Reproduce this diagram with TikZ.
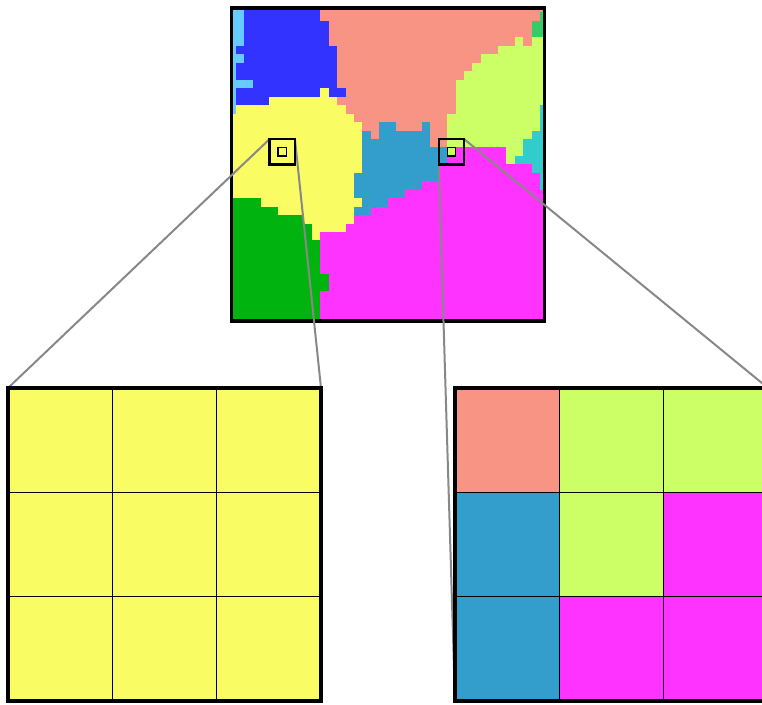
\documentclass[tikz,border=0pt]{standalone}
\definecolor{colA}{HTML}{66CCFF}
\definecolor{colB}{HTML}{3333FF}
\definecolor{colS}{HTML}{F89483}
\definecolor{colL}{HTML}{CCFF66}
\definecolor{colG}{HTML}{33CC66}
\definecolor{colC}{HTML}{33CCCC}
\definecolor{colY}{HTML}{FAFC63}
\definecolor{colT}{HTML}{339DCC}
\definecolor{colM}{HTML}{FF33FF}
\definecolor{colD}{HTML}{00B30E}
\definecolor{zgrey}{HTML}{888888}
\tikzset{
  frame/.style={line width=3.6pt},
  zoomline/.style={draw=zgrey, line width=2pt},
  selbox/.style={line width=2.4pt},
  selpix/.style={line width=1.1pt},
  cellgrid/.style={line width=1.4pt},
  pix/.style={fill=#1, draw=#1, line width=0.3pt}
}
\begin{document}
\begin{tikzpicture}[x=1pt,y=-1pt]
\useasboundingbox (0,0) rectangle (762,704);
\clip (0,0) rectangle (762,704);
% ---------------- top grain map ----------------
\begin{scope}[shift={(231.5,8)}, x=8.459pt, y=-8.459pt]
  \begin{scope}
    \clip (0,0) rectangle (37,37);
    \foreach \r/\runs in {
      0/{A/2,B/11,S/38},
      1/{A/2,B/11,S/37,G/38},
      2/{A/2,B/12,S/36,G/38},
      3/{A/2,B/12,S/36,G/38},
      4/{A/2,B/12,S/34,L/35,S/36,L/38},
      5/{A/1,B/13,S/32,L/38},
      6/{A/2,B/13,S/30,L/38},
      7/{A/1,B/13,S/29,L/38},
      8/{A/1,B/13,S/28,L/38},
      9/{A/3,B/13,S/27,L/38},
      10/{A/1,B/11,Y/12,B/14,S/27,L/38},
      11/{A/1,B/5,Y/13,S/27,L/38},
      12/{A/1,Y/14,S/27,L/37,C/38},
      13/{Y/15,S/26,L/37,C/38},
      14/{Y/16,S/18,T/20,S/23,T/24,S/26,L/37,C/38},
      15/{Y/16,T/17,S/18,T/24,S/26,L/36,C/38},
      16/{Y/16,T/24,S/26,L/35,C/38},
      17/{Y/16,T/26,L/27,M/33,L/35,C/38},
      18/{Y/16,T/26,M/33,L/34,C/38},
      19/{Y/16,T/25,M/36,C/38},
      20/{Y/15,T/25,M/37,C/38},
      21/{Y/15,T/23,M/37,C/38},
      22/{Y/15,T/21,M/38},
      23/{D/4,Y/16,T/19,M/38},
      24/{D/6,Y/15,T/17,M/38},
      25/{D/9,Y/15,M/38},
      26/{D/10,Y/14,M/38},
      27/{D/10,Y/11,M/38},
      28/{D/11,M/38},
      29/{D/11,M/38},
      30/{D/11,M/38},
      31/{D/11,M/38},
      32/{D/12,M/38},
      33/{D/12,M/38},
      34/{D/11,M/38},
      35/{D/11,M/38},
      36/{D/11,M/38},
      37/{D/11,M/38}}{
      \foreach \c/\e [remember=\e as \s (initially 0)] in \runs {
        \path[pix=col\c] (\s-0.5,\r-0.5) rectangle (\e-0.5,\r+0.5);
      }
    }
  \end{scope}
  \draw[frame] (0,0) rectangle (37,37);
  \coordinate (LTL) at (4.5,15.5);
  \coordinate (LTR) at (7.5,15.5);
  \coordinate (RTR) at (27.5,15.5);
  \coordinate (RBL) at (24.5,18.5);
\end{scope}
% ---------------- panels ----------------
\begin{scope}[shift={(8,388)}, x=104.333pt, y=-104.333pt]
  \coordinate (PLtl) at (0,0);
  \coordinate (PLtr) at (3,0);
\end{scope}
\begin{scope}[shift={(455,388)}, x=104.333pt, y=-104.333pt]
  \coordinate (PRtr) at (3,0);
  \coordinate (PRbl) at (0,3);
\end{scope}
% ---------------- connectors ----------------
\draw[zoomline] (LTL) -- (PLtl);
\draw[zoomline] (LTR) -- (PLtr);
\draw[zoomline] (RTR) -- (PRtr);
\draw[zoomline] (RBL) -- (PRbl);
% ---------------- selection boxes ----------------
\begin{scope}[shift={(231.5,8)}, x=8.459pt, y=-8.459pt]
  \draw[selbox] (4.5,15.5) rectangle (7.5,18.5);
  \draw[selpix] (5.5,16.5) rectangle (6.5,17.5);
  \draw[selbox] (24.5,15.5) rectangle (27.5,18.5);
  \draw[selpix] (25.5,16.5) rectangle (26.5,17.5);
\end{scope}
% left panel
\begin{scope}[shift={(8,388)}, x=104.333pt, y=-104.333pt]
  \foreach \r/\cols in {0/{Y,Y,Y},1/{Y,Y,Y},2/{Y,Y,Y}}{
    \foreach \c [count=\i from 0] in \cols {
      \path[pix=col\c] (\i,\r) rectangle ++(1,1);
    }
  }
  \draw[cellgrid] (1,0) -- (1,3) (2,0) -- (2,3) (0,1) -- (3,1) (0,2) -- (3,2);
  \draw[frame] (0,0) rectangle (3,3);
\end{scope}
% right panel
\begin{scope}[shift={(455,388)}, x=104.333pt, y=-104.333pt]
  \foreach \r/\cols in {0/{S,L,L},1/{T,L,M},2/{T,M,M}}{
    \foreach \c [count=\i from 0] in \cols {
      \path[pix=col\c] (\i,\r) rectangle ++(1,1);
    }
  }
  \draw[cellgrid] (1,0) -- (1,3) (2,0) -- (2,3) (0,1) -- (3,1) (0,2) -- (3,2);
  \draw[frame] (0,0) rectangle (3,3);
\end{scope}
\end{tikzpicture}
\end{document}
